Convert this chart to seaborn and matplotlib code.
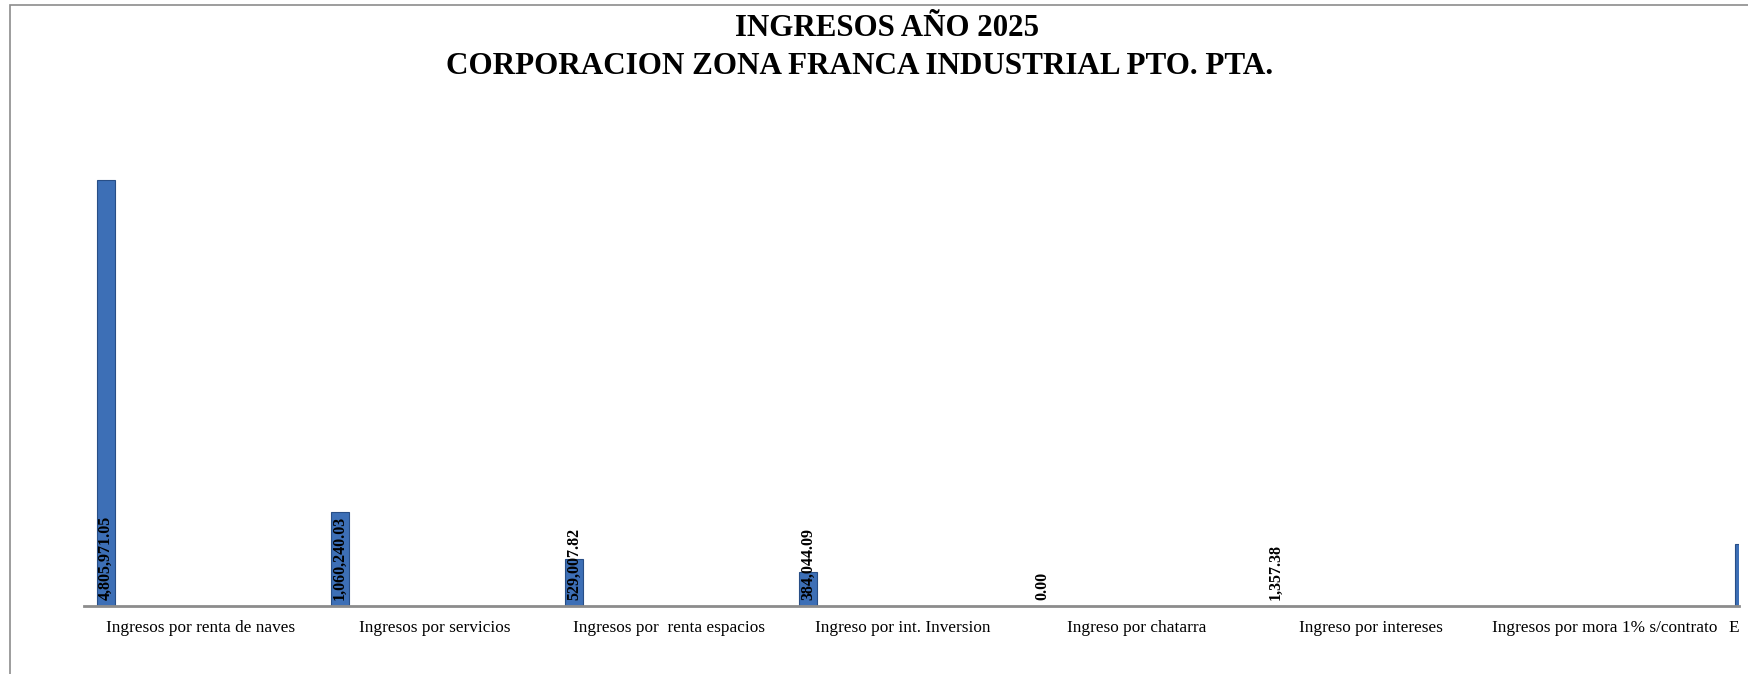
import numpy as np
import pandas as pd
import matplotlib
matplotlib.use("Agg")
import matplotlib.pyplot as plt
import seaborn as sns
from matplotlib.patches import Rectangle

# ---- data ----
categories = [
    "Ingresos por renta de naves",
    "Ingresos por servicios",
    "Ingresos por  renta espacios",
    "Ingreso por int. Inversion",
    "Ingreso por chatarra",
    "Ingreso por intereses",
    "Ingresos por mora 1% s/contrato",
    "E",
]
values = [4805971.05, 1060240.03, 529007.82, 384044.09, 0.00, 1357.38, np.nan, 700000.0]
value_labels = ["4,805,971.05", "1,060,240.03", "529,007.82", "384,044.09", "0.00", "1,357.38", "", ""]
title_lines = ["INGRESOS AÑO 2025", "CORPORACION ZONA FRANCA INDUSTRIAL PTO. PTA."]
y_max = 6000000

# ---- style ----
sns.set_style("white")
plt.rcParams["font.family"] = ["Liberation Serif", "DejaVu Serif"]
plt.rcParams["text.color"] = "black"

W, H = 1748, 674
fig = plt.figure(figsize=(W / 100, H / 100), dpi=100)
fig.patch.set_facecolor("white")

ax_left, ax_right, ax_bottom, ax_top = 84, 1739, 606, 74
ax = fig.add_axes([ax_left / W, (H - ax_bottom) / H, (ax_right - ax_left) / W, (ax_bottom - ax_top) / H])

df = pd.DataFrame({"cat": categories, "val": values})
sns.barplot(data=df, x="cat", y="val", order=categories, color="#3D6FB6",
            saturation=1, width=0.077, edgecolor="#284E86", linewidth=0.8, ax=ax)

slot_px = 234.0
off = 22.0 / slot_px
x0 = -off
x1 = x0 + (ax_right - ax_left) / slot_px
ax.set_xlim(x0, x1)
ax.set_ylim(0, y_max)

for s in ["left", "right", "top"]:
    ax.spines[s].set_visible(False)
ax.spines["bottom"].set_color("#8C8C8C")
ax.spines["bottom"].set_linewidth(2)

n = len(categories)
boundaries = [i - off for i in range(n)]
centers = [i - off + 0.5 for i in range(n - 1)]
ax.set_xticks(boundaries)
ax.set_xticklabels([])
ax.set_xticks(centers, minor=True)
ax.set_xticklabels(categories[:n - 1], minor=True, fontsize=12.4)
ax.tick_params(axis="x", which="major", length=5, width=1, color="#8C8C8C", direction="out")
ax.tick_params(axis="x", which="minor", length=0, pad=10, labelcolor="black")
ax.set_yticks([])
ax.set_xlabel("")
ax.set_ylabel("")

# last (cut-off) category label, left-aligned after its tick
ax.annotate(categories[-1], xy=(boundaries[-1], 0), xycoords=("data", "axes fraction"),
            xytext=(5, -10), textcoords="offset points", ha="left", va="top",
            fontsize=12.4, color="black", annotation_clip=False)

# data labels (inside base, rotated)
for i, lab in enumerate(value_labels):
    if lab:
        ax.annotate(lab, xy=(i, 0), xytext=(0, 4), textcoords="offset points",
                    rotation=90, ha="center", va="bottom", fontsize=11.5,
                    fontweight="bold", color="black")

# title (two lines, positioned as in the reference)
fig.text(887 / W, 1 - 29 / H, title_lines[0], ha="center", va="center",
         fontsize=22.2, fontweight="bold", color="black")
fig.text(860 / W, 1 - 67 / H, title_lines[1], ha="center", va="center",
         fontsize=22.4, fontweight="bold", color="black")

# chart-area border (top and left visible, rest cut off)
fig.add_artist(Rectangle((10 / W, -1), 2, 2 - 5 / H, transform=fig.transFigure,
                         facecolor="none", edgecolor="#8C8C8C", linewidth=1.2))

fig.savefig("out.png", dpi=100, facecolor="white")
